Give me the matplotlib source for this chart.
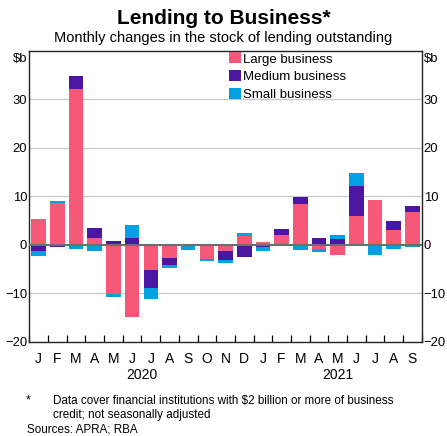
import numpy as np
import matplotlib.pyplot as plt

plt.rcParams['font.family'] = ['Liberation Sans', 'DejaVu Sans']

months = ['J', 'F', 'M', 'A', 'M', 'J', 'J', 'A', 'S', 'O', 'N', 'D',
          'J', 'F', 'M', 'A', 'M', 'J', 'J', 'A', 'S']
years = ['2020', '2021']
large = [5.3, 8.6, 32.2, 1.4, -10.1, -14.9, -5.3, -2.7, -0.1, -2.9, -1.2, 1.85,
         0.6, 2.0, 8.4, -0.9, -2.05, 6.0, 9.2, 3.1, 6.7]
medium = [-1.4, -0.4, 2.5, 2.1, 0.8, 1.4, -3.7, -1.4, -0.15, 0.2, -2.0, -2.6,
          -0.4, 1.3, 1.4, 1.3, 1.2, 6.2, 0.0, 1.7, 1.3]
small = [-1.0, 0.4, -0.8, -1.2, -0.7, 2.6, -2.1, -0.75, -0.75, -0.5, -0.6, 0.55,
         -0.8, -0.35, -1.0, -0.7, 0.7, 2.6, -2.05, -0.8, -0.55]

series = [('Large business', large, '#F65878'),
          ('Medium business', medium, '#4A16A2'),
          ('Small business', small, '#00A0E2')]

fig = plt.figure(figsize=(4.47, 4.36), dpi=100)
ax = fig.add_axes([0.0656, 0.2163, 0.878, 0.6674])

x = np.arange(len(months))
pos = np.zeros(len(months))
neg = np.zeros(len(months))
for name, vals, col in series:
    v = np.array(vals)
    bottom = np.where(v >= 0, pos, neg)
    ax.bar(x, v, width=0.78, bottom=bottom, color=col, label=name, linewidth=0)
    pos = pos + np.clip(v, 0, None)
    neg = neg + np.clip(v, None, 0)

ax.set_xlim(-0.5, len(months) - 0.5)
ax.set_ylim(-20, 40)
for yv in [-10, 10, 20, 30]:
    ax.axhline(yv, color='#c8c8c8', lw=0.9, zorder=0)
ax.axhline(0, color='#6e6e6e', lw=1.5, zorder=3)

ax.set_yticks([-20, -10, 0, 10, 20, 30])
ax.tick_params(axis='y', length=0, labelsize=9.4, pad=1.5,
               labelleft=True, labelright=True, left=False, right=False)
ax.set_xticks(np.arange(len(months) + 1) - 0.5)
ax.set_xticklabels([])
ax.tick_params(axis='x', direction='in', length=5, width=0.9, color='black')
for s in ax.spines.values():
    s.set_linewidth(1.0)
    s.set_color('#222222')

for i, m in enumerate(months):
    ax.text(i, -22.1, m, ha='center', va='top', fontsize=10)
ax.text(5.5, -25.5, years[0], ha='center', va='top', fontsize=10)
ax.text(16, -25.5, years[1], ha='center', va='top', fontsize=10)

ax.text(-0.6, 38.3, '$b', ha='right', va='center', fontsize=9.4)
ax.text(20.6, 38.3, '$b', ha='left', va='center', fontsize=9.4)

ax.legend(loc='upper right', bbox_to_anchor=(0.82, 1.012), frameon=False,
          fontsize=9.5, handlelength=0.9, handleheight=0.9, handletextpad=0.15,
          labelspacing=0.35, borderaxespad=0)

fig.text(0.5, 0.957, 'Lending to Business*', ha='center', va='center',
         fontsize=15, fontweight='bold')
fig.text(0.5, 0.912, 'Monthly changes in the stock of lending outstanding',
         ha='center', va='center', fontsize=10.5)
fig.text(0.058, 0.081, '*', ha='left', va='center', fontsize=9)
fig.text(0.118, 0.065, 'Data cover financial institutions with $2 billion or more of business\ncredit; not seasonally adjusted',
         ha='left', va='center', fontsize=8.4, linespacing=1.2)
fig.text(0.06, 0.015, 'Sources: APRA; RBA', ha='left', va='center', fontsize=8.4)

fig.savefig('out.png', dpi=100)
